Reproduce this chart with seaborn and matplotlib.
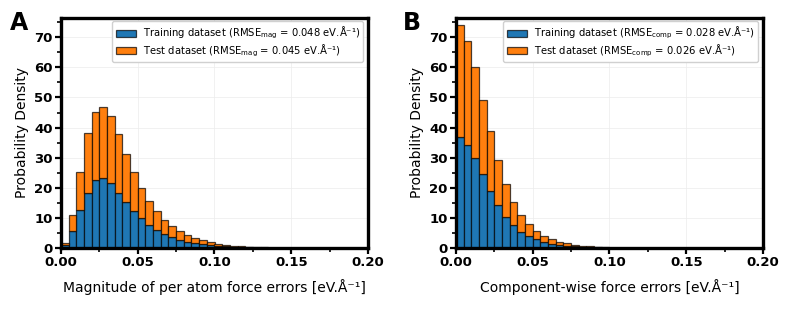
import numpy as np
import pandas as pd
import matplotlib
matplotlib.use("Agg")
import matplotlib.pyplot as plt
import seaborn as sns
from matplotlib.patches import Patch
from matplotlib.ticker import MultipleLocator

# bin edges: 0 .. 0.2, width 0.005
bin_width = 0.005
n_bins = 40

# Panel A: magnitude errors (stacked heights: train at bottom, test on top)
mag_train = [0.9, 5.5, 12.7, 18.4, 22.5, 23.1, 21.7, 18.4, 15.4, 12.4, 9.9, 7.7, 6.0, 4.7, 3.6,
             2.8, 2.1, 1.7, 1.3, 1.0, 0.72, 0.52, 0.38, 0.28, 0.2, 0.15, 0.1, 0.07, 0.05, 0.035,
             0.02, 0.01, 0.0, 0.0, 0.0, 0.0, 0.0, 0.0, 0.0, 0.0]
mag_test = [0.9, 5.6, 12.5, 19.7, 22.8, 23.6, 22.1, 19.4, 15.7, 12.7, 10.0, 7.9, 6.2, 4.6, 3.6,
            3.0, 2.3, 1.7, 1.3, 0.9, 0.68, 0.5, 0.37, 0.27, 0.2, 0.15, 0.1, 0.07, 0.05, 0.035,
            0.02, 0.01, 0.0, 0.0, 0.0, 0.0, 0.0, 0.0, 0.0, 0.0]

# Panel B: component-wise errors
comp_train = [36.8, 34.2, 29.8, 24.7, 19.1, 14.3, 10.4, 7.7, 5.4, 4.0, 2.9, 2.0, 1.4, 1.0, 0.75,
              0.55, 0.4, 0.28, 0.19, 0.12, 0.08, 0.05, 0.03, 0.02, 0.01, 0.0, 0.0, 0.0, 0.0, 0.0,
              0.0, 0.0, 0.0, 0.0, 0.0, 0.0, 0.0, 0.0, 0.0, 0.0]
comp_test = [37.3, 34.5, 30.3, 24.5, 19.6, 14.8, 11.0, 7.7, 5.7, 4.1, 2.9, 2.1, 1.6, 1.1, 0.85,
             0.55, 0.4, 0.27, 0.19, 0.13, 0.07, 0.05, 0.03, 0.02, 0.01, 0.0, 0.0, 0.0, 0.0, 0.0,
             0.0, 0.0, 0.0, 0.0, 0.0, 0.0, 0.0, 0.0, 0.0, 0.0]

labels_A = [r"Training dataset (RMSE$_{\mathregular{mag}}$ = 0.048 eV.Å⁻¹)",
            r"Test dataset (RMSE$_{\mathregular{mag}}$ = 0.045 eV.Å⁻¹)"]
labels_B = [r"Training dataset (RMSE$_{\mathregular{comp}}$ = 0.028 eV.Å⁻¹)",
            r"Test dataset (RMSE$_{\mathregular{comp}}$ = 0.026 eV.Å⁻¹)"]
xlabel_A = "Magnitude of per atom force errors [eV.Å⁻¹]"
xlabel_B = "Component-wise force errors [eV.Å⁻¹]"
ylabel = "Probability Density"
xticks = [0.00, 0.05, 0.10, 0.15, 0.20]

colors = ["#1f77b4", "#ff7f0e"]

sns.set_style("white")
plt.rcParams["font.family"] = ["DejaVu Sans"]
plt.rcParams["text.color"] = "black"
plt.rcParams["axes.labelcolor"] = "black"
plt.rcParams["xtick.color"] = "black"
plt.rcParams["ytick.color"] = "black"

fig = plt.figure(figsize=(7.89, 3.16), dpi=100)
axA = fig.add_axes([61/789, 1-248/316, (368-61)/789, (248-18)/316])
axB = fig.add_axes([456/789, 1-248/316, (763-456)/789, (248-18)/316])

centers = (np.arange(n_bins) + 0.5) * bin_width


def draw(ax, train, test, labels, xlabel, letter):
    df = pd.DataFrame({
        "x": np.concatenate([centers, centers]),
        "w": np.concatenate([train, test]),
        "set": ["train"]*n_bins + ["test"]*n_bins,
    })
    sns.histplot(data=df, x="x", weights="w", hue="set", hue_order=["test", "train"],
                 palette={"train": colors[0], "test": colors[1]},
                 binwidth=bin_width, binrange=(0, bin_width*n_bins),
                 multiple="stack", stat="count", ax=ax, legend=False,
                 alpha=1.0, edgecolor=(0, 0, 0, 0.7), linewidth=0.9, zorder=2)
    ax.set_xlim(0, 0.2)
    ax.set_ylim(0, 76.4)
    ax.set_xticks(xticks)
    ax.xaxis.set_minor_locator(MultipleLocator(0.025))
    ax.yaxis.set_major_locator(MultipleLocator(10))
    ax.yaxis.set_minor_locator(MultipleLocator(5))
    ax.grid(True, which="major", color="#ececec", linewidth=0.5, zorder=0)
    ax.set_axisbelow(True)
    for s in ax.spines.values():
        s.set_linewidth(2.4)
        s.set_color("black")
        s.set_visible(True)
    ax.tick_params(axis="both", which="major", length=4, width=1.6, direction="out",
                   labelsize=9.5, pad=2, bottom=True, left=True, colors="black")
    ax.tick_params(axis="both", which="minor", length=3, width=1.2, direction="out",
                   bottom=True, left=True, colors="black")
    ax.xaxis.set_major_formatter(matplotlib.ticker.FormatStrFormatter("%.2f"))
    for lab in ax.get_xticklabels() + ax.get_yticklabels():
        lab.set_fontweight("bold")
    ax.set_xlabel(xlabel, fontsize=10, labelpad=7)
    ax.set_ylabel(ylabel, fontsize=10, labelpad=4)
    handles = [Patch(facecolor=colors[0], edgecolor=(0, 0, 0, 0.7), linewidth=0.9),
               Patch(facecolor=colors[1], edgecolor=(0, 0, 0, 0.7), linewidth=0.9)]
    ax.legend(handles, labels, loc="upper right", fontsize=7.2, frameon=True,
              edgecolor="#d0d0d0", framealpha=1.0, borderpad=0.35, handlelength=2.0,
              handleheight=0.7, handletextpad=0.7, labelspacing=0.12, borderaxespad=0.0,
              bbox_to_anchor=(0.985, 0.985), fancybox=True)


draw(axA, mag_train, mag_test, labels_A, xlabel_A, "A")
draw(axB, comp_train, comp_test, labels_B, xlabel_B, "B")

fig.text(10/789, 1-35/316, "A", fontsize=17, fontweight="bold", va="bottom", ha="left")
fig.text(403/789, 1-35/316, "B", fontsize=17, fontweight="bold", va="bottom", ha="left")

fig.savefig("out.png", dpi=100)
